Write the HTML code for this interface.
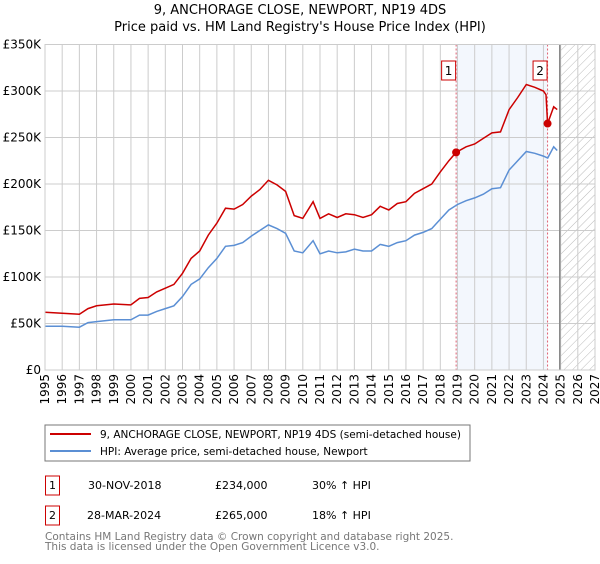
<!DOCTYPE html>
<html><head><meta charset="utf-8"><style>
body{margin:0;background:#fff;width:600px;height:560px;overflow:hidden;font-family:"DejaVu Sans","Liberation Sans",sans-serif}
svg text{font-family:"DejaVu Sans","Liberation Sans",sans-serif}
</style></head><body>
<svg id="c" width="600" height="560">
<defs><pattern id="hatch" width="6" height="6" patternUnits="userSpaceOnUse" patternTransform="rotate(45)"><line x1="0" y1="0" x2="0" y2="6" stroke="#bbb" stroke-width="1"/></pattern></defs>
<text x="300" y="14" text-anchor="middle" font-size="13">9, ANCHORAGE CLOSE, NEWPORT, NP19 4DS</text>
<text x="300" y="31" text-anchor="middle" font-size="13">Price paid vs. HM Land Registry's House Price Index (HPI)</text>
<g id="plot"></g>
<rect x="45" y="425" width="425" height="36" fill="#fff" stroke="#777"/>
<line x1="50" y1="434" x2="91" y2="434" stroke="#cc0000" stroke-width="2"/>
<text x="100" y="438" font-size="10.5">9, ANCHORAGE CLOSE, NEWPORT, NP19 4DS (semi-detached house)</text>
<line x1="50" y1="451" x2="91" y2="451" stroke="#5b8fd4" stroke-width="2"/>
<text x="100" y="455" font-size="10.5">HPI: Average price, semi-detached house, Newport</text>
<g font-size="11">
<rect x="45.5" y="476" width="14" height="19" fill="none" stroke="#cc0000"/><text x="52.5" y="489" text-anchor="middle">1</text>
<text x="88" y="489">30-NOV-2018</text><text x="215" y="489">£234,000</text><text x="312" y="489">30% ↑ HPI</text></g>
<g font-size="11">
<rect x="45.5" y="506" width="14" height="19" fill="none" stroke="#cc0000"/><text x="52.5" y="519" text-anchor="middle">2</text>
<text x="87" y="519">28-MAR-2024</text><text x="215" y="519">£265,000</text><text x="312" y="519">18% ↑ HPI</text></g>
<text x="45" y="540" font-size="10.5" fill="#777">Contains HM Land Registry data © Crown copyright and database right 2025.</text>
<text x="45" y="550" font-size="10.5" fill="#777">This data is licensed under the Open Government Licence v3.0.</text>
</svg>
<script>
const yTicks=[0,50,100,150,200,250,300,350];
const yTickLabels=["£0","£50K","£100K","£150K","£200K","£250K","£300K","£350K"];
const xYears=[1995,1996,1997,1998,1999,2000,2001,2002,2003,2004,2005,2006,2007,2008,2009,2010,2011,2012,2013,2014,2015,2016,2017,2018,2019,2020,2021,2022,2023,2024,2025,2026,2027];
const hpiT=[1995,1996,1997,1997.5,1998,1999,2000,2000.5,2001,2001.5,2002,2002.5,2003,2003.5,2004,2004.5,2005,2005.5,2006,2006.5,2007,2007.5,2008,2008.5,2009,2009.5,2010,2010.6,2011,2011.5,2012,2012.5,2013,2013.5,2014,2014.5,2015,2015.5,2016,2016.5,2017,2017.5,2018,2018.5,2019,2019.5,2020,2020.5,2021,2021.5,2022,2022.5,2023,2023.5,2024,2024.25,2024.6,2024.8];
const hpiV=[47,47,46,51,52,54,54,59,59,63,66,69,79,92,98,110,120,133,134,137,144,150,156,152,147,128,126,139,125,128,126,127,130,128,128,135,133,137,139,145,148,152,162,172,178,182,185,189,195,196,215,225,235,233,230,228,240,236];
const priceT=[1995,1996,1997,1997.5,1998,1999,2000,2000.5,2001,2001.5,2002,2002.5,2003,2003.5,2004,2004.5,2005,2005.5,2006,2006.5,2007,2007.5,2008,2008.5,2009,2009.5,2010,2010.6,2011,2011.5,2012,2012.5,2013,2013.5,2014,2014.5,2015,2015.5,2016,2016.5,2017,2017.5,2018,2018.5,2018.92,2019.5,2020,2020.5,2021,2021.5,2022,2022.5,2023,2023.5,2024,2024.15,2024.24,2024.6,2024.8];
const priceV=[62,61,60,66,69,71,70,77,78,84,88,92,104,120,128,145,158,174,173,178,187,194,204,199,192,166,163,181,163,168,164,168,167,164,167,176,172,179,181,190,195,200,213,225,234,240,243,249,255,256,280,293,307,304,300,296,265,283,280];
const salesT=[2018.92,2024.24];
const salesV=[234,265];
const salesLabel=["1","2"];
const L=45,R=595,T=44.5,B=370;
const X=t=>L+(t-1995)/(2027-1995)*(R-L);
const Y=v=>B-v/350*(B-T);
const g=document.getElementById('plot');
const NS='http://www.w3.org/2000/svg';
function mk(tag,attrs){const e=document.createElementNS(NS,tag);for(const k in attrs)e.setAttribute(k,attrs[k]);g.appendChild(e);return e;}
let e;
e=mk('rect',{x:X(salesT[0]),y:T,width:X(salesT[1])-X(salesT[0]),height:B-T,fill:'#eef3fc',opacity:0.7});


e=mk('rect',{x:X(2024.95),y:T,width:R-X(2024.95),height:B-T,fill:'url(#hatch)'});


xYears.forEach((yr,i)=>{
 e=mk('line',{x1:X(yr),x2:X(yr),y1:T,y2:B,stroke:'#ccc','stroke-width':1});
 
 
 e=mk('text',{x:0,y:0,'font-size':12,'text-anchor':'end',transform:`translate(${X(yr)+4},${B+4}) rotate(-90)`});
 e.textContent=yr;
 
 
});
yTicks.forEach((v,i)=>{
 e=mk('line',{x1:L,x2:R,y1:Y(v),y2:Y(v),stroke:'#ccc','stroke-width':1});
 
 
 e=mk('text',{x:L-4,y:Y(v)+4,'font-size':12,'text-anchor':'end'});
 e.textContent=yTickLabels[i];
 
 
});
e=mk('line',{x1:X(2024.95),x2:X(2024.95),y1:T,y2:B,stroke:'#888','stroke-width':1.5});


salesT.forEach((t,i)=>{
 e=mk('line',{x1:X(t),x2:X(t),y1:T,y2:B,stroke:'#e06070','stroke-width':1,'stroke-dasharray':'2,2'});
 
 
 e=mk('rect',{x:X(t)-14.5,y:61,width:14,height:19,fill:'#fff',stroke:'#cc0000'});
 
 
 e=mk('text',{x:X(t)-7.5,y:75,'font-size':12,'text-anchor':'middle'});
 e.textContent=salesLabel[i];
 
 
});
const pts=(ts,vs)=>ts.map((t,i)=>X(t).toFixed(1)+','+Y(vs[i]).toFixed(1)).join(' ');
e=mk('polyline',{points:pts(hpiT,hpiV),fill:'none',stroke:'#5b8fd4','stroke-width':1.5});


e=mk('polyline',{points:pts(priceT,priceV),fill:'none',stroke:'#cc0000','stroke-width':1.5});


salesT.forEach((t,i)=>{
 e=mk('circle',{cx:X(t),cy:Y(salesV[i]),r:4,fill:'#cc0000'});
 
 
});
e=mk('rect',{x:L,y:T,width:R-L,height:B-T,fill:'none',stroke:'#ccc'});


</script>
</body></html>
